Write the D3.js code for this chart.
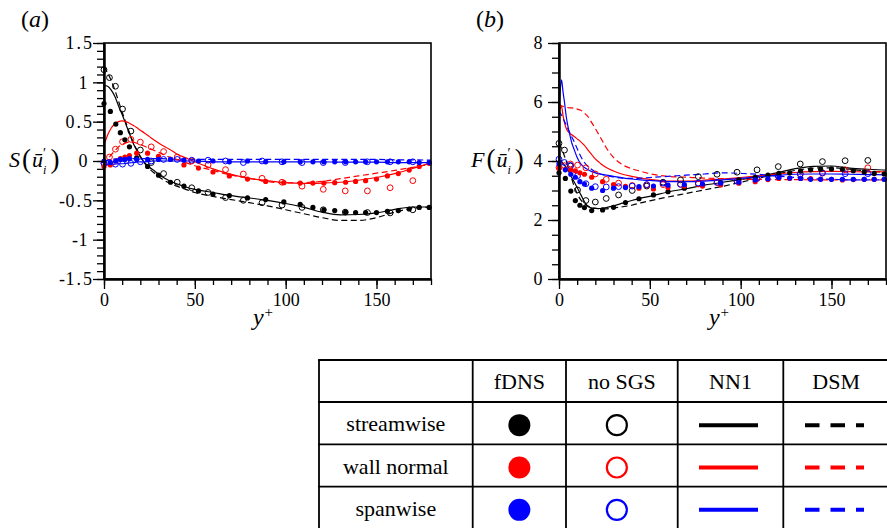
<!DOCTYPE html>
<html><head><meta charset="utf-8">
<script src="https://cdn.jsdelivr.net/npm/d3@7"></script>
<style>
body{margin:0;background:#fff}
svg{display:block}
text{font-family:"Liberation Serif","Times New Roman",serif;fill:#000}
</style>
</head><body>
<svg id="c" width="887" height="528"></svg>
<script>
// ---------------- DATA ----------------
const colours = ["#000000", "#ff0000", "#0000ff"];
const components = ["streamwise", "wall normal", "spanwise"];
const methods = ["fDNS", "no SGS", "NN1", "DSM"];

// y+ sample positions
const fdnsYp = [0, 3.5, 6.5, 9, 11.5, 14, 18, 24, 30, 36.6, 44, 52, 60, 69, 79, 89, 99, 108, 115, 121, 127, 133, 138.5, 144, 150, 156, 162, 168, 173.5, 179];
const noSgsYp = [0, 3, 6.3, 10.2, 14.8, 20, 26, 32.8, 40.3, 48.3, 57.3, 66.9, 76.7, 87, 98, 109, 120.7, 132.8, 145, 157.5, 170];
const lineYpA = [0, 2, 4, 6, 8, 10, 12, 14, 16, 18, 20, 22, 25, 28, 32, 36, 40, 45, 50, 60, 70, 80, 90, 100, 110, 120, 130, 140, 150, 160, 170, 180];
const lineYpB = [0, 0.7, 1.4, 2.2, 3, 4, 5, 6, 7, 8, 10, 12, 14, 16, 18, 20, 23, 26, 30, 35, 40, 45, 50, 60, 70, 80, 90, 100, 110, 120, 130, 140, 150, 160, 170, 180];

// (a) skewness S
const skewFdnsStream = [0.73, 0.63, 0.47, 0.36, 0.27, 0.18, 0.04, -0.07, -0.18, -0.27, -0.32, -0.38, -0.42, -0.44, -0.47, -0.49, -0.52, -0.55, -0.59, -0.62, -0.63, -0.65, -0.655, -0.655, -0.655, -0.64, -0.63, -0.61, -0.59, -0.59];
const skewFdnsWall = [-0.07, -0.05, 0.0, 0.03, 0.05, 0.07, 0.10, 0.10, 0.06, 0.02, -0.05, -0.09, -0.14, -0.19, -0.23, -0.26, -0.275, -0.28, -0.28, -0.28, -0.275, -0.27, -0.26, -0.25, -0.23, -0.19, -0.16, -0.115, -0.07, -0.03];
const skewFdnsSpan = [0.0, -0.02, 0.0, 0.02, 0.02, 0.03, 0.02, 0.02, 0.02, 0.02, 0.01, 0.0, 0.0, -0.01, 0.0, -0.01, -0.01, -0.01, -0.01, -0.01, -0.01, -0.01, -0.01, -0.01, -0.01, -0.01, -0.01, -0.01, -0.02, -0.02];
const skewNoSgsStream = [1.16, 1.06, 0.95, 0.66, 0.38, 0.14, -0.02, -0.16, -0.27, -0.34, -0.40, -0.465, -0.50, -0.53, -0.56, -0.59, -0.62, -0.65, -0.655, -0.66, -0.62];
const skewNoSgsWall = [-0.03, 0.05, 0.15, 0.245, 0.275, 0.24, 0.18, 0.12, 0.05, 0.0, -0.05, -0.11, -0.165, -0.22, -0.27, -0.32, -0.36, -0.38, -0.38, -0.34, -0.25];
const skewNoSgsSpan = [-0.03, -0.02, -0.04, -0.04, -0.03, -0.01, 0.0, 0.02, 0.02, 0.01, 0.01, 0.0, -0.02, 0.0, -0.01, -0.02, -0.02, -0.02, -0.01, -0.01, -0.01];
const skewNn1Stream = [0.96, 0.95, 0.90, 0.82, 0.70, 0.59, 0.47, 0.35, 0.23, 0.14, 0.06, -0.01, -0.08, -0.13, -0.20, -0.25, -0.29, -0.33, -0.36, -0.40, -0.44, -0.47, -0.50, -0.54, -0.59, -0.65, -0.685, -0.68, -0.66, -0.615, -0.585, -0.585];
const skewDsmStream = [1.2, 1.12, 1.02, 0.9, 0.76, 0.62, 0.49, 0.36, 0.24, 0.14, 0.05, -0.02, -0.10, -0.16, -0.23, -0.28, -0.32, -0.36, -0.40, -0.45, -0.49, -0.53, -0.57, -0.62, -0.67, -0.72, -0.755, -0.755, -0.72, -0.65, -0.60, -0.585];
const skewNn1Wall = [0.2, 0.33, 0.42, 0.47, 0.50, 0.51, 0.50, 0.48, 0.455, 0.425, 0.39, 0.36, 0.31, 0.26, 0.20, 0.15, 0.09, 0.04, -0.01, -0.10, -0.17, -0.22, -0.25, -0.275, -0.285, -0.28, -0.27, -0.245, -0.21, -0.16, -0.095, -0.02];
const skewDsmWall = [-0.05, 0.02, 0.08, 0.13, 0.18, 0.21, 0.23, 0.24, 0.24, 0.225, 0.21, 0.19, 0.16, 0.13, 0.09, 0.05, 0.02, -0.02, -0.06, -0.12, -0.18, -0.22, -0.26, -0.28, -0.275, -0.26, -0.225, -0.19, -0.155, -0.12, -0.08, -0.04];
const skewNn1Span = [-0.05, -0.05, -0.045, -0.04, -0.035, -0.035, -0.03, -0.025, -0.02, -0.015, -0.01, -0.01, -0.005, 0, 0, 0, 0, 0, 0, -0.01, -0.01, -0.01, -0.01, -0.01, -0.01, -0.01, -0.015, -0.015, -0.015, -0.02, -0.02, -0.02];
const skewDsmSpan = [0.0, 0.01, 0.02, 0.025, 0.03, 0.03, 0.03, 0.03, 0.03, 0.03, 0.03, 0.03, 0.03, 0.03, 0.03, 0.025, 0.025, 0.025, 0.02, 0.02, 0.02, 0.02, 0.02, 0.02, 0.02, 0.02, 0.02, 0.02, 0.02, 0.015, 0.015, 0.01];

// (b) flatness F
const flatFdnsStream = [3.6, 3.41, 2.98, 2.66, 2.5, 2.42, 2.32, 2.34, 2.43, 2.59, 2.72, 2.85, 2.96, 3.08, 3.19, 3.27, 3.36, 3.45, 3.52, 3.58, 3.6, 3.66, 3.7, 3.72, 3.73, 3.72, 3.67, 3.63, 3.58, 3.56];
const flatFdnsWall = [3.75, 3.72, 3.7, 3.67, 3.6, 3.55, 3.45, 3.3, 3.2, 3.14, 3.08, 3.05, 3.1, 3.15, 3.15, 3.19, 3.25, 3.3, 3.37, 3.41, 3.41, 3.41, 3.4, 3.39, 3.38, 3.36, 3.37, 3.38, 3.38, 3.38];
const flatFdnsSpan = [3.9, 3.7, 3.55, 3.45, 3.3, 3.22, 3.08, 3.0, 3.08, 3.1, 3.13, 3.15, 3.18, 3.2, 3.22, 3.25, 3.28, 3.36, 3.4, 3.44, 3.42, 3.41, 3.38, 3.38, 3.38, 3.38, 3.38, 3.38, 3.38, 3.38];
const flatNoSgsStream = [4.6, 4.37, 3.83, 3.02, 2.66, 2.61, 2.73, 2.85, 3.0, 3.15, 3.28, 3.36, 3.47, 3.55, 3.62, 3.7, 3.81, 3.9, 3.98, 4.01, 4.02];
const flatNoSgsWall = [3.78, 3.84, 3.9, 3.86, 3.77, 3.56, 3.38, 3.25, 3.17, 3.19, 3.2, 3.21, 3.22, 3.27, 3.32, 3.41, 3.49, 3.55, 3.6, 3.7, 3.77];
const flatNoSgsSpan = [4.06, 3.95, 3.85, 3.5, 3.23, 3.13, 3.12, 3.13, 3.15, 3.2, 3.25, 3.21, 3.25, 3.28, 3.32, 3.41, 3.49, 3.56, 3.59, 3.57, 3.57];
const flatNn1Stream = [4.03, 4.0, 3.97, 3.92, 3.86, 3.78, 3.7, 3.55, 3.44, 3.33, 3.1, 2.86, 2.62, 2.46, 2.41, 2.39, 2.39, 2.42, 2.48, 2.57, 2.66, 2.74, 2.8, 2.95, 3.06, 3.18, 3.28, 3.37, 3.47, 3.6, 3.74, 3.82, 3.83, 3.76, 3.72, 3.69];
const flatDsmStream = [4.6, 4.52, 4.43, 4.3, 4.17, 4.0, 3.8, 3.6, 3.4, 3.2, 2.9, 2.68, 2.55, 2.47, 2.42, 2.4, 2.38, 2.38, 2.41, 2.45, 2.5, 2.58, 2.65, 2.78, 2.9, 3.02, 3.14, 3.28, 3.42, 3.56, 3.68, 3.76, 3.77, 3.72, 3.66, 3.62];
const flatNn1Wall = [5.67, 5.8, 5.84, 5.55, 5.3, 5.1, 5.0, 4.93, 4.89, 4.85, 4.75, 4.65, 4.53, 4.37, 4.22, 4.07, 3.91, 3.78, 3.66, 3.55, 3.48, 3.42, 3.38, 3.32, 3.32, 3.35, 3.39, 3.44, 3.5, 3.56, 3.61, 3.64, 3.65, 3.64, 3.63, 3.63];
const flatDsmWall = [5.95, 5.9, 5.87, 5.85, 5.84, 5.82, 5.81, 5.8, 5.8, 5.79, 5.76, 5.72, 5.62, 5.5, 5.3, 5.1, 4.78, 4.45, 4.12, 3.87, 3.74, 3.65, 3.57, 3.48, 3.45, 3.42, 3.4, 3.38, 3.38, 3.37, 3.37, 3.36, 3.36, 3.36, 3.36, 3.36];
const flatNn1Span = [5.6, 6.4, 6.75, 6.35, 6.0, 5.5, 5.15, 4.88, 4.62, 4.45, 4.12, 3.9, 3.78, 3.7, 3.64, 3.6, 3.56, 3.52, 3.48, 3.43, 3.39, 3.36, 3.34, 3.3, 3.3, 3.32, 3.36, 3.41, 3.46, 3.51, 3.55, 3.56, 3.56, 3.55, 3.54, 3.53];
const flatDsmSpan = [5.7, 5.63, 5.55, 5.45, 5.35, 5.22, 5.08, 4.95, 4.82, 4.7, 4.42, 4.15, 3.95, 3.81, 3.71, 3.63, 3.55, 3.51, 3.46, 3.42, 3.41, 3.42, 3.44, 3.48, 3.52, 3.56, 3.6, 3.58, 3.55, 3.49, 3.44, 3.4, 3.38, 3.36, 3.36, 3.36];

// tick values
const xMajorTicks = [0, 50, 100, 150];
const xMinorTicks = d3.range(0, 181, 10);
const skewMajorTicks = [-1.5, -1, -0.5, 0, 0.5, 1, 1.5];
const skewMinorTicks = d3.range(-15, 16, 1).map(d => d / 10);
const flatMajorTicks = [0, 2, 4, 6, 8];
const flatMinorTicks = d3.range(0, 16.5, 1).map(d => d / 2);

// ---------------- DRAW ----------------
const svg = d3.select("#c");

function drawPanel(p) {
  const x = d3.scaleLinear().domain([0, 180]).range([p.left, p.right]);
  const y = d3.scaleLinear().domain(p.ydom).range([p.bottom, p.top]);
  const g = svg.append("g");

  const line = d3.line().curve(d3.curveMonotoneX).x(d => x(d[0])).y(d => y(d[1]));
  p.lines.forEach(s => {
    g.append("path")
      .attr("d", line(s.xs.map((v, i) => [v, s.vs[i]])))
      .attr("fill", "none").attr("stroke", s.c).attr("stroke-width", 1.2)
      .attr("stroke-dasharray", s.dash ? "6,3.5" : null);
  });
  p.open.forEach(s => {
    g.selectAll(null).data(s.vs).enter().append("circle")
      .attr("cx", (d, i) => x(s.xs[i])).attr("cy", d => y(d)).attr("r", 2.9)
      .attr("fill", "none").attr("stroke", s.c).attr("stroke-width", 1);
  });
  p.filled.forEach(s => {
    g.selectAll(null).data(s.vs).enter().append("circle")
      .attr("cx", (d, i) => x(s.xs[i])).attr("cy", d => y(d)).attr("r", 2.6)
      .attr("fill", s.c);
  });

  g.append("rect").attr("x", p.left).attr("y", p.top)
    .attr("width", p.right - p.left).attr("height", p.bottom - p.top)
    .attr("fill", "none").attr("stroke", "#000").attr("stroke-width", 1.6);

  const ax = g.append("g").attr("transform", `translate(0,${p.bottom})`)
    .call(d3.axisBottom(x).tickValues(xMajorTicks).tickSize(10).tickSizeOuter(0).tickFormat(d3.format("d")));
  const axm = g.append("g").attr("transform", `translate(0,${p.bottom})`)
    .call(d3.axisBottom(x).tickValues(xMinorTicks).tickSize(6).tickSizeOuter(0).tickFormat(""));
  const ay = g.append("g").attr("transform", `translate(${p.left},0)`)
    .call(d3.axisLeft(y).tickValues(p.major).tickSize(11).tickSizeOuter(0).tickFormat(d => String(d)));
  const aym = g.append("g").attr("transform", `translate(${p.left},0)`)
    .call(d3.axisLeft(y).tickValues(p.minor).tickSize(7).tickSizeOuter(0).tickFormat(""));
  [ax, axm, ay, aym].forEach(a => {
    a.attr("font-family", null).attr("font-size", null);
    a.select(".domain").attr("stroke", "#000").attr("stroke-width", 2);
    a.selectAll(".tick line").attr("stroke", "#000").attr("stroke-width", 1.3);
  });
  ax.selectAll(".tick text").style("font-size", "18px").attr("y", 14).attr("dy", "0.71em");
  // y tick labels: decimals spaced a little wider, integers end a bit further left
  ay.selectAll(".tick text").each(function(d) {
    const t = d3.select(this);
    const s = String(d);
    t.style("font-size", "18px").attr("dy", "0.33em")
      .attr("x", s.includes(".") ? -12 : -16.5).text(null);
    s.split("").forEach((ch, k) => {
      t.append("tspan").attr("dx", k > 0 && (ch === "." || s[k - 1] === ".") ? 2 : (k > 0 && s[k - 1] === "-" ? 0.5 : 0)).text(ch);
    });
  });

  const tag = svg.append("text").attr("x", p.tagX).attr("y", 27).style("font-size", "24px");
  tag.append("tspan").text("(");
  tag.append("tspan").attr("font-style", "italic").text(p.tag);
  tag.append("tspan").text(")");

  const xt = svg.append("text").attr("x", p.xtX).attr("y", 325).style("font-size", "24px").attr("text-anchor", "middle");
  xt.append("tspan").attr("font-style", "italic").text("y");
  xt.append("tspan").style("font-size", "15px").attr("dy", -8).attr("dx", 1).text("+");

  const yt = svg.append("text").attr("x", p.ytX).attr("y", 167).style("font-size", "22px");
  yt.append("tspan").attr("font-style", "italic").text(p.ylab);
  yt.append("tspan").style("font-size", "27px").attr("dx", 2).attr("dy", 1).text("(");
  yt.append("tspan").attr("font-style", "italic").attr("dy", -1).attr("dx", 1).text("\u016B");
  yt.append("tspan").style("font-size", "14px").attr("dy", -9).attr("dx", 0).text("\u2032");
  yt.append("tspan").style("font-size", "12px").attr("font-style", "italic").attr("dy", 16).attr("dx", -3).text("i");
  yt.append("tspan").style("font-size", "27px").attr("dy", -6).attr("dx", 4).text(")");
}

drawPanel({
  left: 104, right: 431, top: 43, bottom: 279, ydom: [-1.5, 1.5],
  major: skewMajorTicks, minor: skewMinorTicks,
  tag: "a", tagX: 21, xtX: 263, ytX: 9, ylab: "S",
  lines: [
    {xs: lineYpA, vs: skewNn1Stream, c: colours[0]},
    {xs: lineYpA, vs: skewDsmStream, c: colours[0], dash: true},
    {xs: lineYpA, vs: skewNn1Wall, c: colours[1]},
    {xs: lineYpA, vs: skewDsmWall, c: colours[1], dash: true},
    {xs: lineYpA, vs: skewNn1Span, c: colours[2]},
    {xs: lineYpA, vs: skewDsmSpan, c: colours[2], dash: true}
  ],
  open: [
    {xs: noSgsYp, vs: skewNoSgsStream, c: colours[0]},
    {xs: noSgsYp, vs: skewNoSgsWall, c: colours[1]},
    {xs: noSgsYp, vs: skewNoSgsSpan, c: colours[2]}
  ],
  filled: [
    {xs: fdnsYp, vs: skewFdnsStream, c: colours[0]},
    {xs: fdnsYp, vs: skewFdnsWall, c: colours[1]},
    {xs: fdnsYp, vs: skewFdnsSpan, c: colours[2]}
  ]
});

drawPanel({
  left: 559, right: 886, top: 43, bottom: 279, ydom: [0, 8],
  major: flatMajorTicks, minor: flatMinorTicks,
  tag: "b", tagX: 476, xtX: 719, ytX: 471, ylab: "F",
  lines: [
    {xs: lineYpB, vs: flatNn1Stream, c: colours[0]},
    {xs: lineYpB, vs: flatDsmStream, c: colours[0], dash: true},
    {xs: lineYpB, vs: flatNn1Wall, c: colours[1]},
    {xs: lineYpB, vs: flatDsmWall, c: colours[1], dash: true},
    {xs: lineYpB, vs: flatNn1Span, c: colours[2]},
    {xs: lineYpB, vs: flatDsmSpan, c: colours[2], dash: true}
  ],
  open: [
    {xs: noSgsYp, vs: flatNoSgsStream, c: colours[0]},
    {xs: noSgsYp, vs: flatNoSgsWall, c: colours[1]},
    {xs: noSgsYp, vs: flatNoSgsSpan, c: colours[2]}
  ],
  filled: [
    {xs: fdnsYp, vs: flatFdnsStream, c: colours[0]},
    {xs: fdnsYp, vs: flatFdnsWall, c: colours[1]},
    {xs: fdnsYp, vs: flatFdnsSpan, c: colours[2]}
  ]
});

// ---------------- LEGEND TABLE ----------------
const colEdges = [319, 472.7, 566, 677.7, 783.3, 889];
const rowEdges = [360, 402, 444.3, 486.7, 529];
const tb = svg.append("g");
colEdges.forEach(cx => tb.append("line").attr("x1", cx).attr("x2", cx)
  .attr("y1", rowEdges[0]).attr("y2", rowEdges[rowEdges.length - 1])
  .attr("stroke", "#000").attr("stroke-width", 1.8));
rowEdges.forEach(ry => tb.append("line").attr("y1", ry).attr("y2", ry)
  .attr("x1", colEdges[0] - 0.9).attr("x2", colEdges[colEdges.length - 1])
  .attr("stroke", "#000").attr("stroke-width", 1.8));
const colMid = i => (colEdges[i] + colEdges[i + 1]) / 2;
const rowMid = i => (rowEdges[i] + rowEdges[i + 1]) / 2;
methods.forEach((m, i) => tb.append("text").attr("x", colMid(i + 1)).attr("y", rowMid(0) + 8)
  .attr("text-anchor", "middle").style("font-size", "22px").text(m));
components.forEach((c, r) => {
  const cy = rowMid(r + 1);
  tb.append("text").attr("x", colMid(0)).attr("y", cy + 8).attr("text-anchor", "middle")
    .style("font-size", "22px").text(c);
  tb.append("circle").attr("cx", colMid(1)).attr("cy", cy + 2).attr("r", 11).attr("fill", colours[r]);
  tb.append("circle").attr("cx", colMid(2) - 5).attr("cy", cy + 2).attr("r", 10)
    .attr("fill", "none").attr("stroke", colours[r]).attr("stroke-width", 2.2);
  tb.append("line").attr("x1", 699).attr("x2", 758).attr("y1", cy + 2).attr("y2", cy + 2)
    .attr("stroke", colours[r]).attr("stroke-width", 4);
  tb.append("line").attr("x1", 805).attr("x2", 864).attr("y1", cy + 2).attr("y2", cy + 2)
    .attr("stroke", colours[r]).attr("stroke-width", 4).attr("stroke-dasharray", "14.5,11");
});
</script>
</body></html>
